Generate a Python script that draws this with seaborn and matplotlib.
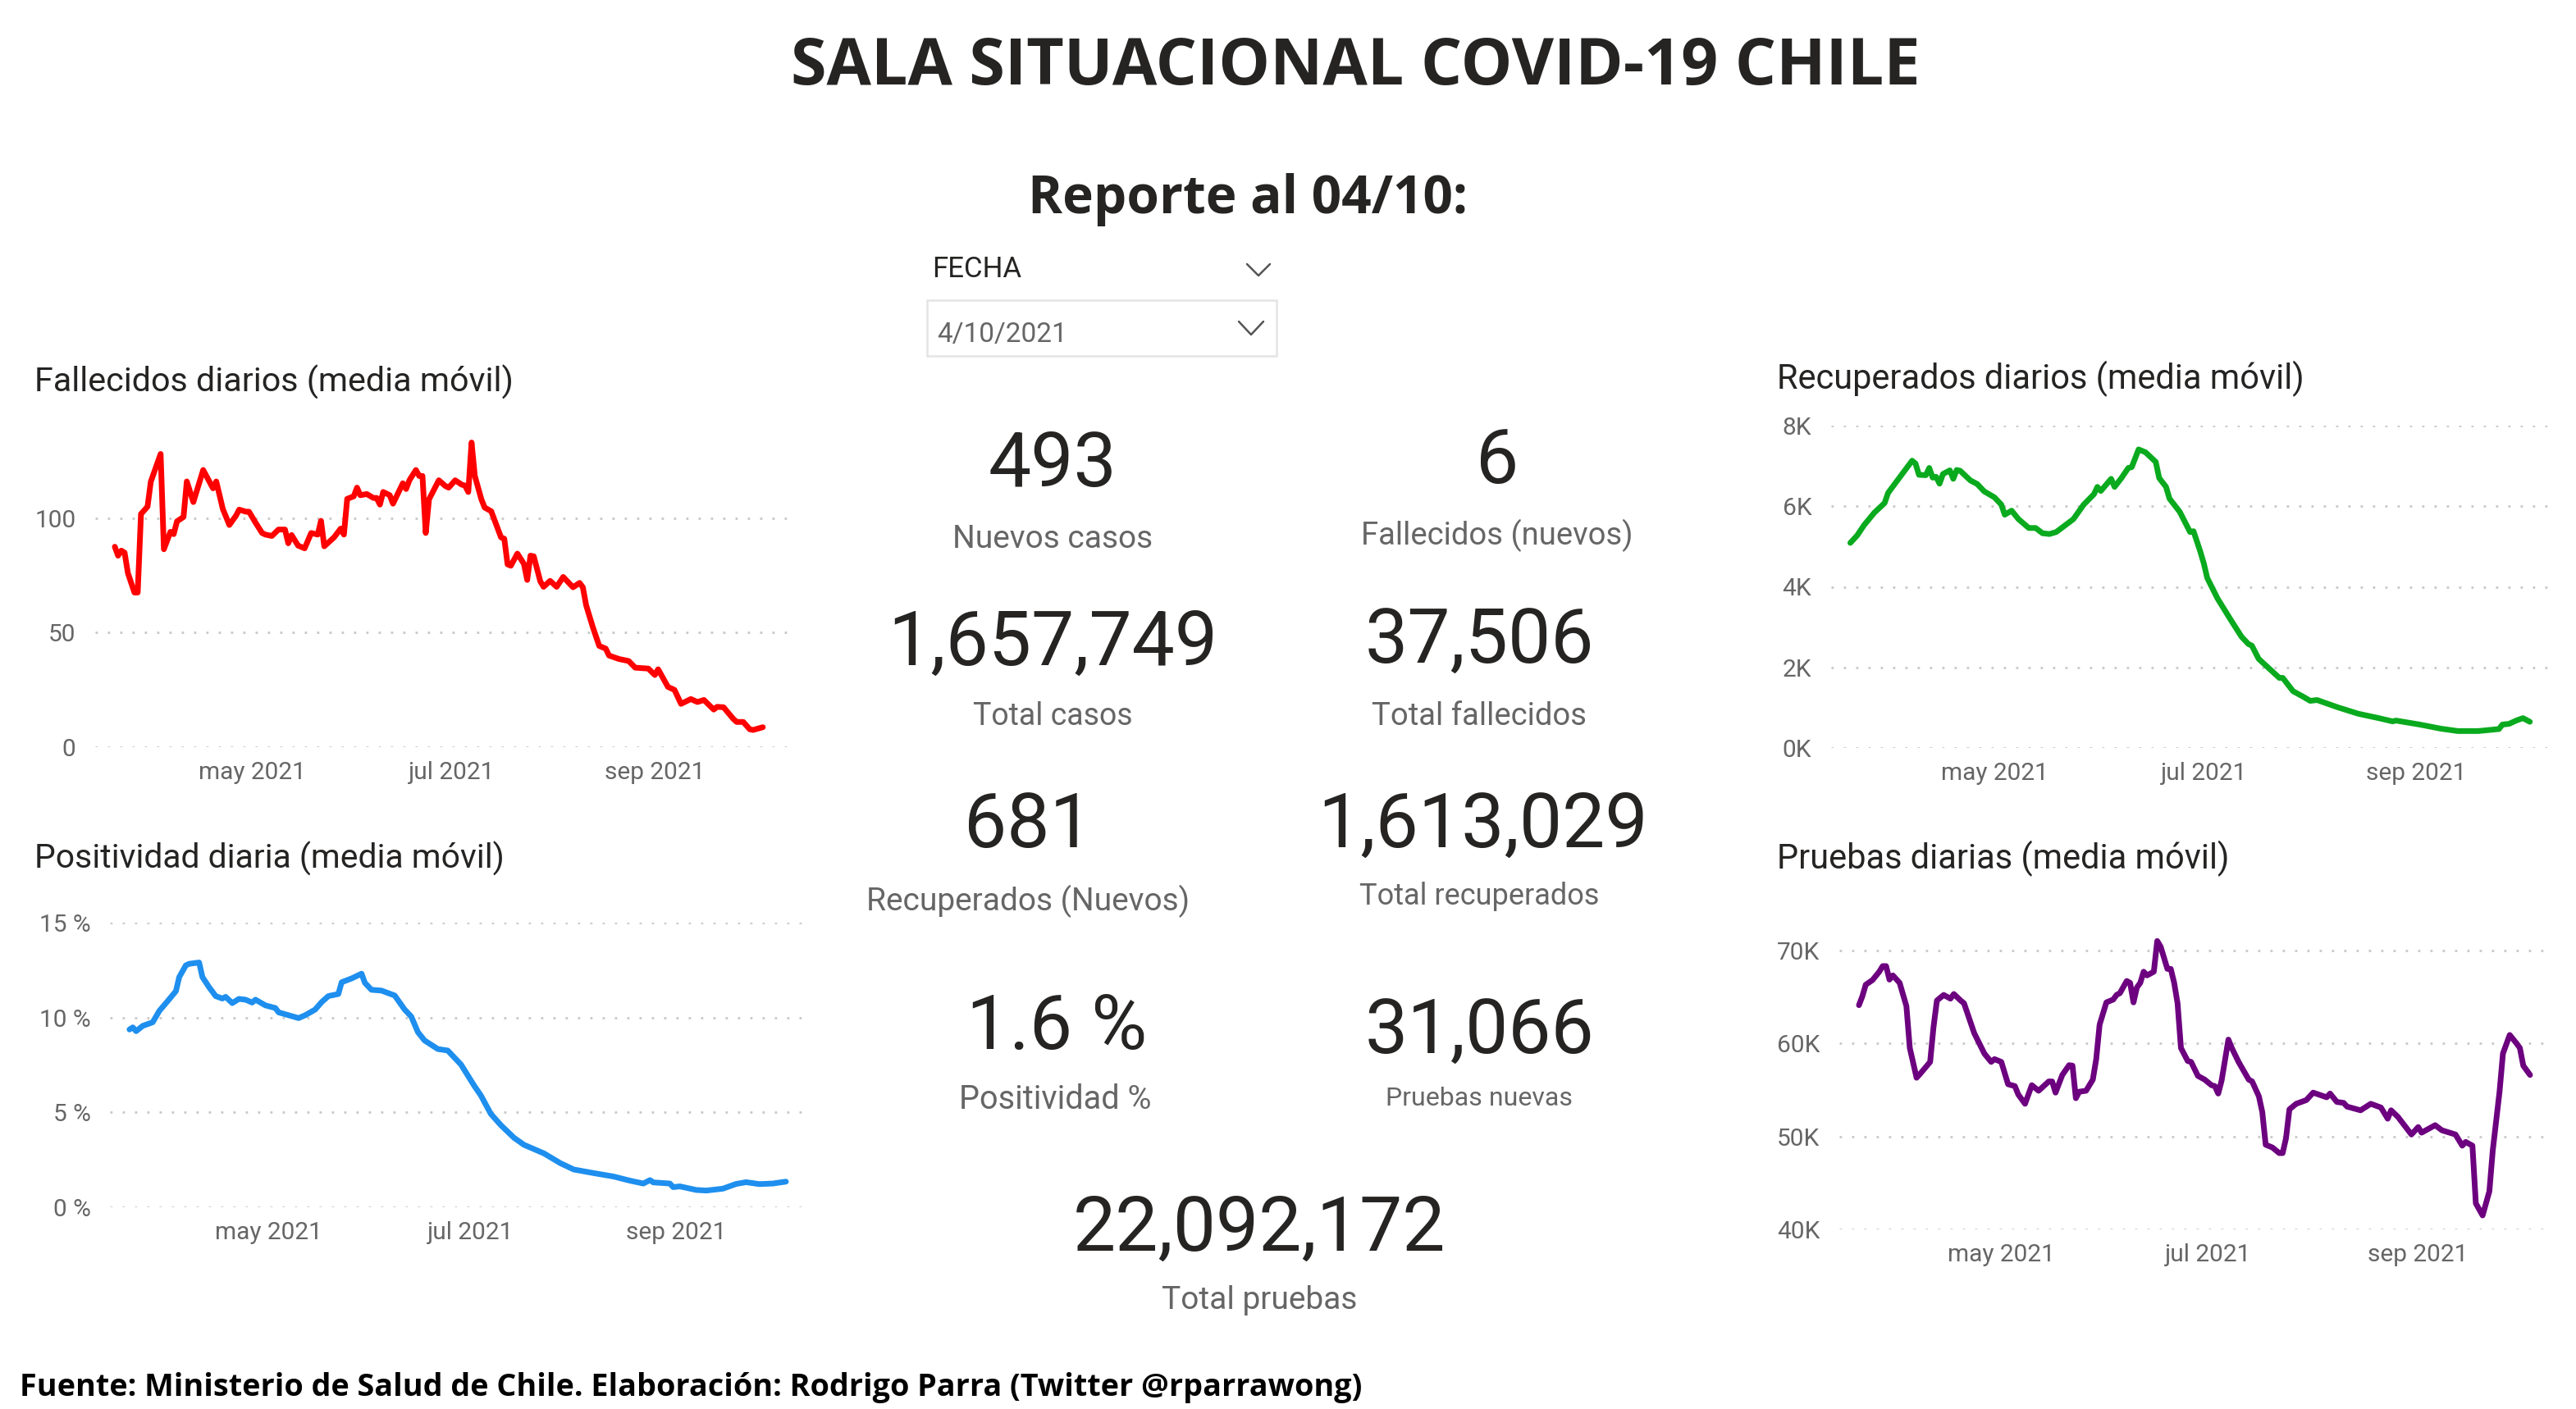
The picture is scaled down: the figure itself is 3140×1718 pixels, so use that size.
##############################
# Sala situacional COVID-19 Chile
##############################

import pandas as pd
import seaborn as sns
import matplotlib.pyplot as plt
from matplotlib.patches import Rectangle

FECHA_INICIO = "2021-03-20"
W, H = 3140, 1718

############################################
# DATOS (dias desde FECHA_INICIO, valor leido)
############################################

dias_fallecidos = [0, 1, 2, 3, 4, 6, 7, 8, 10, 11, 14, 15, 17, 18, 19, 21, 22, 24, 27, 30, 31, 33, 35, 37, 38, 40, 41,
                   43, 45, 46, 48, 50, 52, 53, 54, 56, 58, 60, 62, 63, 64, 67, 69, 70, 71, 73, 74, 75, 77, 79, 80, 81,
                   82, 84, 85, 88, 89, 90, 92, 93, 94, 95, 96, 99, 101, 102, 104, 106, 107, 108, 109, 110, 112, 113,
                   115, 118, 119, 120, 121, 123, 125, 126, 127, 128, 130, 131, 133, 135, 137, 140, 142, 143, 144, 146,
                   148, 150, 151, 154, 157, 159, 163, 165, 166, 169, 171, 173, 176, 178, 180, 183, 184, 186, 189, 190,
                   192, 194, 195, 198]
fallecidos = [87.5, 83.6, 85.8, 84.9, 76, 67.5, 67.5, 101.8, 105, 115.9, 128, 86.4, 94, 93, 98.6, 100.5, 116, 107, 121,
              113, 116, 104, 97, 101, 103.7, 102.8, 102.8, 98, 93.5, 92.8, 92.2, 95, 95, 89, 92.6, 88, 86.8, 93.5, 92.8,
              98.8, 87.7, 91.6, 95.4, 92.8, 108.4, 109.5, 113.3, 110, 110.5, 108.8, 108.8, 105.9, 111.4, 110, 106.3,
              115.2, 112.7, 116.5, 121, 118.4, 118.4, 93.5, 108.2, 116.5, 114, 113.3, 116.5, 114.6, 114.2, 111.4, 133,
              118.4, 108.2, 104.6, 103, 91.6, 91, 79.8, 79.2, 84.5, 80, 73, 83.6, 83.3, 72.4, 70, 72.6, 70, 74.3, 69.8,
              71.7, 69.8, 62, 52.6, 44.2, 43, 40, 38.5, 37.6, 34.7, 34.3, 31.5, 34, 26.3, 25, 18.9, 21, 19.7, 20.6,
              16.4, 17.6, 17.4, 12.3, 11, 11, 7.8, 7.5, 8.7]

dias_positividad = [0, 1, 2, 4, 7, 9, 11, 14, 15, 17, 18, 21, 22, 24, 26, 28, 29, 31, 33, 35, 37, 38, 41, 44, 45, 48, 51,
                    53, 56, 58, 60, 63, 64, 67, 70, 71, 73, 76, 80, 83, 85, 87, 89, 93, 96, 100, 104, 106, 109, 112, 116,
                    119, 125, 130, 134, 140, 146, 151, 155, 157, 158, 163, 164, 166, 171, 174, 179, 183, 186, 190, 194,
                    198]
positividad = [9.37, 9.48, 9.28, 9.56, 9.75, 10.35, 10.76, 11.39, 12.13, 12.75, 12.83, 12.9, 12.13, 11.6, 11.13, 11,
               11.09, 10.76, 10.98, 10.94, 10.79, 10.94, 10.64, 10.5, 10.27, 10.12, 9.97, 10.12, 10.42, 10.82, 11.13,
               11.24, 11.86, 12.06, 12.31, 11.83, 11.46, 11.42, 11.16, 10.42, 10.05, 9.23, 8.79, 8.34, 8.26, 7.52, 6.4,
               5.89, 4.92, 4.33, 3.66, 3.29, 2.84, 2.32, 1.99, 1.8, 1.62, 1.4, 1.25, 1.43, 1.31, 1.25, 1.06, 1.1, 0.91,
               0.88, 0.98, 1.23, 1.32, 1.22, 1.25, 1.35]

dias_recuperados = [0, 2, 4, 7, 10, 11, 18, 19, 20, 22, 23, 24, 25, 26, 27, 29, 30, 31, 32, 35, 37, 39, 42, 44, 45, 47,
                    49, 52, 54, 56, 58, 60, 65, 68, 71, 72, 73, 76, 77, 79, 81, 82, 84, 86, 89, 90, 92, 93, 96, 99, 100,
                    102, 103, 104, 107, 111, 114, 116, 117, 119, 125, 126, 129, 132, 134, 136, 142, 148, 154, 158, 159,
                    166, 172, 177, 183, 189, 190, 192, 194, 196, 198]
recuperados = [5090, 5275, 5530, 5840, 6080, 6330, 7130, 7060, 6780, 6770, 6950, 6710, 6730, 6560, 6800, 6890, 6680,
               6900, 6880, 6640, 6550, 6370, 6220, 6040, 5790, 5890, 5680, 5460, 5460, 5330, 5310, 5360, 5680, 6040,
               6300, 6480, 6380, 6680, 6480, 6700, 6950, 6970, 7410, 7340, 7100, 6700, 6480, 6190, 5860, 5360, 5380,
               4870, 4580, 4220, 3710, 3160, 2760, 2580, 2540, 2210, 1740, 1740, 1410, 1270, 1170, 1190, 1010, 850, 740,
               660, 680, 580, 480, 420, 420, 470, 580, 600, 680, 740, 650]

dias_pruebas = [0, 1, 2, 4, 6, 7, 8, 9, 10, 12, 14, 15, 17, 18, 21, 22, 23, 25, 27, 28, 30, 31, 34, 37, 39, 40, 42, 44,
                46, 47, 49, 51, 53, 56, 57, 58, 60, 62, 63, 64, 65, 67, 69, 70, 71, 73, 75, 76, 77, 79, 80, 81, 82, 83,
                84, 85, 87, 88, 89, 91, 92, 93, 94, 95, 97, 98, 100, 102, 104, 105, 106, 107, 109, 110, 112, 115, 116,
                118, 119, 120, 122, 124, 125, 126, 127, 129, 132, 134, 138, 139, 141, 143, 144, 148, 151, 154, 156,
                157, 159, 163, 165, 166, 170, 172, 176, 178, 179, 181, 182, 184, 186, 187, 189, 190, 192, 194, 195, 196,
                198]
pruebas = [64100, 65050, 66300, 66800, 67700, 68300, 68300, 66850, 67300, 66500, 64000, 59500, 56300, 56700, 58000,
           61750, 64600, 65200, 64800, 65300, 64600, 64300, 61100, 58900, 58000, 58300, 58000, 55600, 55400, 54500,
           53500, 55500, 54900, 55900, 55900, 54700, 56600, 57650, 57600, 54100, 54800, 54900, 56100, 58300, 62000,
           64400, 64700, 65200, 65400, 66700, 66500, 64400, 66000, 66500, 67700, 67300, 67700, 71000, 70400, 68000,
           68000, 66500, 64300, 59500, 58100, 58000, 56500, 56100, 55500, 55400, 54600, 56000, 60400, 59500, 58000,
           56100, 55900, 54300, 52600, 49100, 48800, 48200, 48200, 49800, 52900, 53500, 53900, 54700, 54200, 54600,
           53700, 53600, 53200, 52800, 53500, 53100, 51900, 52800, 52100, 50200, 51000, 50400, 51200, 50650, 50200,
           49000, 49400, 49000, 42800, 41500, 44100, 48500, 54800, 58900, 60900, 60000, 59500, 57600, 56600]

meses_ticks = ["2021-05-01", "2021-07-01", "2021-09-01"]
meses_labels = ["may 2021", "jul 2021", "sep 2021"]

ticks_fallecidos = [0, 50, 100]
labels_fallecidos = ["0", "50", "100"]
ticks_positividad = [0, 5, 10, 15]
labels_positividad = ["0 %", "5 %", "10 %", "15 %"]
ticks_recuperados = [0, 2000, 4000, 6000, 8000]
labels_recuperados = ["0K", "2K", "4K", "6K", "8K"]
ticks_pruebas = [40000, 50000, 60000, 70000]
labels_pruebas = ["40K", "50K", "60K", "70K"]

# tarjetas: valor, x, y, etiqueta, y etiqueta
kpi_valores = ["493", "6", "1,657,749", "37,506", "681", "1,613,029", "1.6 %", "31,066", "22,092,172"]
kpi_etiquetas = ["Nuevos casos", "Fallecidos (nuevos)", "Total casos", "Total fallecidos", "Recuperados (Nuevos)",
                 "Total recuperados", "Positividad %", "Pruebas nuevas", "Total pruebas"]
kpi_x = [1283, 1825, 1283, 1803, 1253, 1807, 1288, 1803, 1535]
kpi_y = [567, 563, 785, 783, 1007, 1007, 1253, 1259, 1499]
kpi_lab_y = [657, 653, 873, 873, 1099, 1093, 1341, 1339, 1585]
kpi_lab_x = [1283, 1825, 1283, 1803, 1253, 1803, 1286, 1803, 1535]
kpi_lab_size = [28, 27.5, 27, 27.5, 28, 26, 28.5, 23, 28]

############################################
# FIGURA
############################################

sns.set_theme(style="white")
plt.rcParams["font.family"] = ["Roboto", "DejaVu Sans"]

fig = plt.figure(figsize=(W / 100, H / 100), dpi=100, facecolor="white")

TEXTO = "#252423"
GRIS = "#666666"


def panel(box, dias, valores, color, yticks, ylabels, ylim, xlim):
    # box en pixeles: izquierda, arriba, derecha, abajo
    izq, arr, der, aba = box
    ax = fig.add_axes([izq / W, 1 - aba / H, (der - izq) / W, (aba - arr) / H])
    fechas = pd.Timestamp(FECHA_INICIO) + pd.to_timedelta(dias, unit="D")
    df = pd.DataFrame({"fecha": fechas, "valor": valores})
    sns.lineplot(data=df, x="fecha", y="valor", color=color, linewidth=5, errorbar=None, ax=ax,
                 solid_joinstyle="round", solid_capstyle="round")
    inicio = pd.Timestamp(FECHA_INICIO)
    ax.set_xlim(inicio + pd.Timedelta(days=xlim[0]), inicio + pd.Timedelta(days=xlim[1]))
    ax.set_ylim(*ylim)
    ax.set_xticks(pd.to_datetime(meses_ticks))
    ax.set_xticklabels(meses_labels)
    ax.set_yticks(yticks)
    ax.set_yticklabels(ylabels)
    ax.set_xlabel("")
    ax.set_ylabel("")
    ax.tick_params(axis="x", length=0, labelsize=21.5, labelcolor=GRIS, pad=12.5)
    ax.tick_params(axis="y", length=0, labelsize=21.5, labelcolor=GRIS, pad=17)
    ax.grid(axis="y", color="#c8c8c8", linewidth=2, linestyle=(0, (1, 4.4)))
    ax.grid(axis="x", visible=False)
    ax.set_axisbelow(True)
    ax.patch.set_alpha(0)
    sns.despine(ax=ax, left=True, bottom=True)
    return ax


panel((116, 520, 963, 911), dias_fallecidos, fallecidos, "#FF0000",
      ticks_fallecidos, labels_fallecidos, (0, 140), (-6, 206.3))
panel((134, 1125, 981, 1472), dias_positividad, positividad, "#1E8FEE",
      ticks_positividad, labels_positividad, (0, 15), (-5.9, 203.7))
panel((2232, 519, 3108, 912), dias_recuperados, recuperados, "#0AAA1E",
      ticks_recuperados, labels_recuperados, (0, 8000), (-5.6, 203.8))
panel((2242, 1136, 3103, 1499), dias_pruebas, pruebas, "#6C007F",
      ticks_pruebas, labels_pruebas, (40000, 72000), (-5.8, 202.6))

############################################
# CAPA DE TEXTO (coordenadas en pixeles)
############################################

capa = fig.add_axes([0, 0, 1, 1], zorder=5)
capa.set_xlim(0, W)
capa.set_ylim(H, 0)
capa.axis("off")

capa.text(1652, 83, "SALA SITUACIONAL COVID-19 CHILE", family="Open Sans", weight="bold", size=56.8, color=TEXTO,
          ha="center", va="center")
capa.text(1521, 244, "Reporte al 04/10:", family="Open Sans", weight="bold", size=46, color=TEXTO,
          ha="center", va="center")
capa.text(24, 1692, "Fuente: Ministerio de Salud de Chile. Elaboración: Rodrigo Parra (Twitter @rparrawong)",
          family="Open Sans", weight="bold", size=27.2, color="black", ha="left", va="center")

capa.text(42, 466, "Fallecidos diarios (media móvil)", size=29.7, color=TEXTO, va="center")
capa.text(42, 1047, "Positividad diaria (media móvil)", size=29.4, color=TEXTO, va="center")
capa.text(2166, 462, "Recuperados diarios (media móvil)", size=29.9, color=TEXTO, va="center")
capa.text(2166, 1047, "Pruebas diarias (media móvil)", size=29.9, color=TEXTO, va="center")

# selector de fecha
capa.text(1136, 329, "FECHA", size=25, color=TEXTO, va="center")
capa.plot([1520, 1534, 1548], [322, 336, 322], color="#555555", linewidth=1.8)
capa.add_patch(Rectangle((1130, 366), 426, 68, facecolor="white", edgecolor="#e4e4e4", linewidth=1.8))
capa.text(1142, 408, "4/10/2021", size=24, color=GRIS, va="center")
capa.plot([1510, 1525, 1540], [392, 408, 392], color="#555555", linewidth=1.8)

for valor, x, y, etiqueta, x_lab, y_lab, size_lab in zip(kpi_valores, kpi_x, kpi_y, kpi_etiquetas, kpi_lab_x, kpi_lab_y,
                                                         kpi_lab_size):
    capa.text(x, y, valor, size=67, color=TEXTO, ha="center", va="center")
    capa.text(x_lab, y_lab, etiqueta, size=size_lab, color=GRIS, ha="center", va="center")

fig.savefig("out.png", dpi=100, facecolor="white")
